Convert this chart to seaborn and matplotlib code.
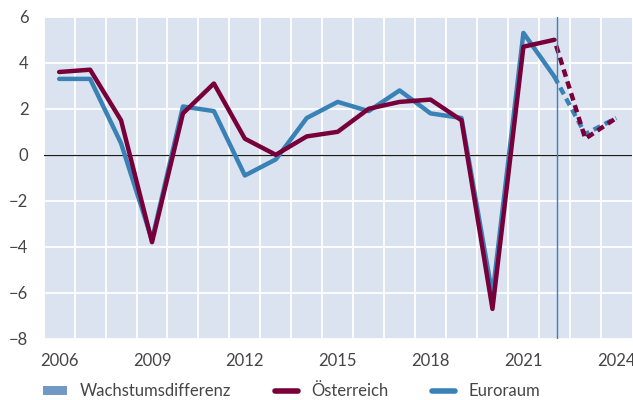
import pandas as pd
import matplotlib.pyplot as plt
import seaborn as sns
from matplotlib.patches import Patch
from matplotlib.lines import Line2D

years = [2006, 2007, 2008, 2009, 2010, 2011, 2012, 2013, 2014, 2015,
         2016, 2017, 2018, 2019, 2020, 2021, 2022, 2023, 2024]
oesterreich = [3.6, 3.7, 1.5, -3.8, 1.8, 3.1, 0.7, 0.0, 0.8, 1.0,
               2.0, 2.3, 2.4, 1.5, -6.7, 4.7, 5.0, 0.7, 1.6]
euroraum = [3.3, 3.3, 0.5, -3.7, 2.1, 1.9, -0.9, -0.2, 1.6, 2.3,
            1.9, 2.8, 1.8, 1.6, -6.1, 5.3, 3.4, 0.9, 1.6]
last_actual = 2022
forecast_marker = 2022.1
legend_labels = ["Wachstumsdifferenz", "Österreich", "Euroraum"]

MAROON = "#78003a"
BLUE = "#3a82b6"
DIFF_BLUE = "#7099c6"
TEXT = "#454545"


def main():
    df = pd.DataFrame({"year": years, "at": oesterreich, "ea": euroraum})
    hist = df[df["year"] <= last_actual]
    fcst = df[df["year"] >= last_actual]

    sns.set_theme(style="darkgrid")
    plt.rcParams["font.family"] = ["Lato", "DejaVu Sans"]

    fig = plt.figure(figsize=(6.33, 4.0), dpi=100)
    ax = fig.add_axes([0.069, 0.153, 0.929, 0.805])
    ax.set_facecolor("#dae3ef")

    # actual values
    sns.lineplot(data=hist, x="year", y="ea", ax=ax, color=BLUE, lw=3.2)
    sns.lineplot(data=hist, x="year", y="at", ax=ax, color=MAROON, lw=3.2)
    # forecast values (dashed)
    sns.lineplot(data=fcst, x="year", y="ea", ax=ax, color=BLUE, lw=3.2,
                 linestyle=(0, (1.7, 1.1)))
    sns.lineplot(data=fcst, x="year", y="at", ax=ax, color=MAROON, lw=3.2,
                 linestyle=(1.4, (1.7, 1.1)))

    ax.axhline(0, color="#1a1a1a", lw=0.9, zorder=1)
    ax.axvline(forecast_marker, color=BLUE, lw=1.0)

    ax.set_xlim(2005.5, 2024.5)
    ax.set_ylim(-8, 6)
    ax.set_xticks(range(2006, 2025, 3))
    ax.set_xticks([y + 0.5 for y in range(2005, 2024)], minor=True)
    ax.set_yticks(range(-8, 7, 2))
    ax.grid(which="major", axis="x", visible=False)
    ax.grid(which="minor", axis="x", color="white", lw=1.3)
    ax.grid(which="major", axis="y", color="white", lw=1.3)
    ax.tick_params(axis="both", which="both", length=0, labelsize=12,
                   labelcolor=TEXT)
    ax.tick_params(axis="x", pad=10)
    ax.tick_params(axis="y", pad=11)
    ax.set_xlabel("")
    ax.set_ylabel("")
    for s in ax.spines.values():
        s.set_visible(False)

    handles = [
        Patch(facecolor=DIFF_BLUE, edgecolor="none"),
        Line2D([], [], color=MAROON, lw=4),
        Line2D([], [], color=BLUE, lw=4),
    ]
    fig.legend(handles, legend_labels, loc="lower left",
               bbox_to_anchor=(0.045, -0.035), ncol=3, frameon=False,
               fontsize=12, labelcolor=TEXT, handlelength=1.4,
               handleheight=0.45, handletextpad=0.8, columnspacing=2.6)

    plt.savefig("out.png", dpi=100)


if __name__ == "__main__":
    main()
